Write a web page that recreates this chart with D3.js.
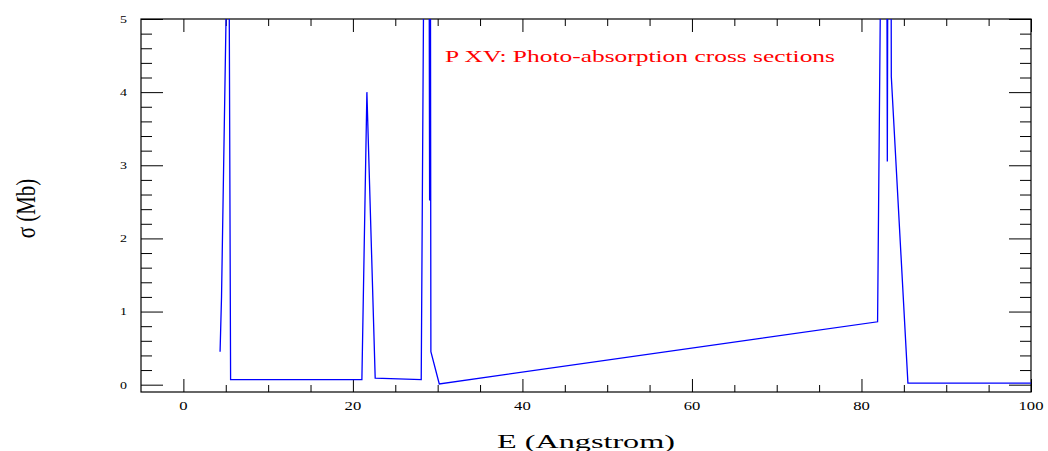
<!DOCTYPE html>
<html>
<head>
<meta charset="utf-8">
<script src="https://cdn.jsdelivr.net/npm/d3@7"></script>
<style>
  html, body { margin: 0; padding: 0; background: #fff; }
  svg { display: block; }
  text { font-family: "Liberation Serif", "Times New Roman", serif; }
</style>
</head>
<body>
<svg id="chart" width="1048" height="451"></svg>
<script>
// ---- data ----
const energy = [4.33, 4.5, 5.1, 5.4, 5.57, 21.06, 21.65, 22.63, 28.06, 28.35, 29.0, 29.05, 29.15, 29.2, 30.19, 81.9, 82.25, 83.0, 83.05, 83.1, 83.5, 83.52, 85.48, 100];
const sigma  = [0.45, 1.2, 5.5, 5.5, 0.07, 0.07, 4.0, 0.09, 0.07, 5.5, 5.5, 2.52, 5.5, 0.45, 0.01, 0.86, 5.5, 5.5, 3.05, 5.5, 5.5, 4.21, 0.02, 0.02];
const xMajorTicks = [0, 20, 40, 60, 80, 100];
const xMinorTicks = [5, 10, 15, 25, 30, 35, 45, 50, 55, 65, 70, 75, 85, 90, 95];
const yMajorTicks = [0, 1, 2, 3, 4, 5];
const yMinorTicks = d3.range(0, 5.0001, 0.2).filter(v => Math.abs(v - Math.round(v)) > 1e-6);
const titleText = "P XV: Photo-absorption cross sections";
const xLabel = "E (Angstrom)";
const yLabel = "σ (Mb)";

// ---- layout ----
const L = 141, R = 1031, T = 19, B = 392;
const svg = d3.select("#chart");
const x = d3.scaleLinear().domain([-5, 100]).range([L, R]);
const y = d3.scaleLinear().domain([-0.1, 5]).range([B, T]);

// clip
svg.append("defs").append("clipPath").attr("id", "plotclip")
  .append("rect").attr("x", L).attr("y", T).attr("width", R - L).attr("height", B - T);

// axes via d3.axis (inward ticks, no domain)
function styleAxis(g) {
  g.select(".domain").remove();
  g.selectAll(".tick line").attr("stroke", "#000").attr("stroke-width", 1);
  g.selectAll(".tick text").remove();
}
svg.append("g").attr("transform", `translate(0,${B})`)
  .call(d3.axisBottom(x).tickValues(xMajorTicks).tickSize(-13)).call(styleAxis);
svg.append("g").attr("transform", `translate(0,${B})`)
  .call(d3.axisBottom(x).tickValues(xMinorTicks).tickSize(-7)).call(styleAxis);
svg.append("g").attr("transform", `translate(0,${T})`)
  .call(d3.axisTop(x).tickValues(xMajorTicks).tickSize(-13)).call(styleAxis);
svg.append("g").attr("transform", `translate(0,${T})`)
  .call(d3.axisTop(x).tickValues(xMinorTicks).tickSize(-7)).call(styleAxis);
svg.append("g").attr("transform", `translate(${L},0)`)
  .call(d3.axisLeft(y).tickValues(yMajorTicks).tickSize(-22)).call(styleAxis);
svg.append("g").attr("transform", `translate(${L},0)`)
  .call(d3.axisLeft(y).tickValues(yMinorTicks).tickSize(-11)).call(styleAxis);
svg.append("g").attr("transform", `translate(${R},0)`)
  .call(d3.axisRight(y).tickValues(yMajorTicks).tickSize(-22)).call(styleAxis);
svg.append("g").attr("transform", `translate(${R},0)`)
  .call(d3.axisRight(y).tickValues(yMinorTicks).tickSize(-11)).call(styleAxis);

// frame
svg.append("rect").attr("x", L).attr("y", T).attr("width", R - L).attr("height", B - T)
  .attr("fill", "none").attr("stroke", "#000").attr("stroke-width", 1.2);

// tick labels
svg.append("g").selectAll("text").data(xMajorTicks).join("text")
  .attr("transform", d => `translate(${x(d)},410) scale(1.28,1)`)
  .attr("text-anchor", "middle").attr("font-size", 13).attr("fill", "#000")
  .text(d => d);
svg.append("g").selectAll("text").data(yMajorTicks).join("text")
  .attr("transform", d => `translate(127,${y(d)}) scale(1.27,1)`)
  .attr("text-anchor", "end").attr("dy", "0.35em").attr("font-size", 11).attr("fill", "#000")
  .text(d => d);

// data line
const line = d3.line().x((d, i) => x(energy[i])).y((d, i) => y(sigma[i]));
svg.append("path").datum(sigma)
  .attr("clip-path", "url(#plotclip)")
  .attr("d", line)
  .attr("fill", "none").attr("stroke", "#0000ff").attr("stroke-width", 1.3)
  .attr("stroke-linejoin", "miter");

// title
svg.append("text").attr("x", 445).attr("y", 61.7)
  .attr("font-size", 16.5).attr("fill", "#ff0000")
  .attr("textLength", 390).attr("lengthAdjust", "spacingAndGlyphs")
  .text(titleText);

// axis labels
svg.append("text").attr("x", 497).attr("y", 447.5)
  .attr("font-size", 19.5).attr("fill", "#000")
  .attr("textLength", 178).attr("lengthAdjust", "spacingAndGlyphs")
  .text(xLabel);
svg.append("text")
  .attr("transform", `translate(35,${(T + B) / 2 + 3}) scale(1.25,1) rotate(-90)`)
  .attr("text-anchor", "middle").attr("font-size", 21).attr("fill", "#000")
  .text(yLabel);
</script>
</body>
</html>
